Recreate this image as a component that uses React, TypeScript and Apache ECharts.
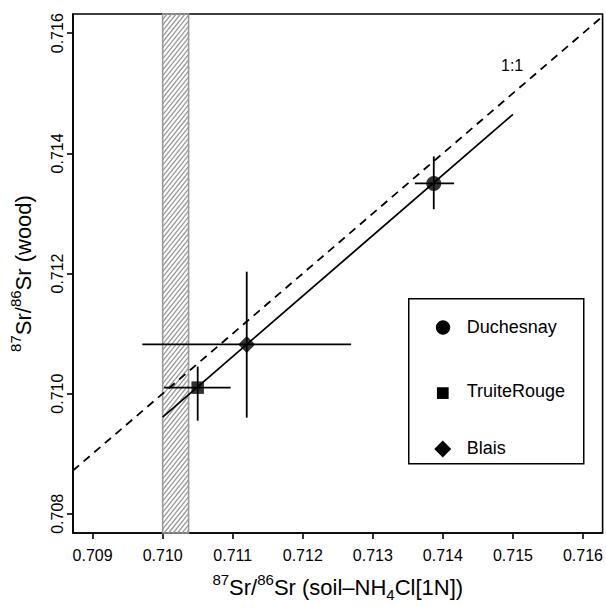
import React, { useEffect, useRef } from "react";
import * as echarts from "echarts";

// ---- data ----
const xTicks = [0.709, 0.71, 0.711, 0.712, 0.713, 0.714, 0.715, 0.716];
const yTicks = [0.708, 0.71, 0.712, 0.714, 0.716];
const xExtent = [0.70872, 0.71628];
const yExtent = [0.70768, 0.71632];

const sites = ["Duchesnay", "TruiteRouge", "Blais"];
const siteSymbols = ["circle", "rect", "diamond"];
const soilSr = [0.71387, 0.7105, 0.7112];
const woodSr = [0.7135, 0.7101, 0.71082];
const soilErrLow = [0.7136, 0.71002, 0.70971];
const soilErrHigh = [0.71416, 0.71097, 0.71269];
const woodErrLow = [0.71307, 0.70955, 0.7096];
const woodErrHigh = [0.71395, 0.71045, 0.71203];

const regressionX = [0.71, 0.715];
const regressionY = [0.70961, 0.71465];

const bandRange = [0.71, 0.71037];
const oneToOneLabel = "1:1";

const FONT = "'Liberation Sans', Arial, Helvetica, sans-serif";

export default function App() {
  const ref = useRef<HTMLDivElement>(null);

  useEffect(() => {
    if (!ref.current) return;
    const chart = echarts.init(ref.current, null, { renderer: "svg" });

    const symbolSizes: any[] = [15, 12.5, 17];

    const option: any = {
      animation: false,
      backgroundColor: "#fff",
      textStyle: { fontFamily: FONT, color: "#000" },
      grid: {
        left: 73,
        top: 14,
        width: 530,
        height: 530.5,
        show: true,
        borderColor: "#000",
        borderWidth: 1.6,
        backgroundColor: "transparent",
      },
      xAxis: {
        type: "value",
        min: xExtent[0],
        max: xExtent[1],
        axisLine: { show: true, onZero: false, lineStyle: { color: "#000", width: 1.6 } },
        axisTick: { show: true, length: 6, inside: false, lineStyle: { color: "#000", width: 1.6 }, customValues: xTicks },
        axisLabel: {
          customValues: xTicks,
          formatter: (v: number) => v.toFixed(3),
          fontSize: 16,
          color: "#000",
          fontFamily: FONT,
          margin: 14,
        },
        splitLine: { show: false },
        name: "{sup|87}{m|Sr/}{sup|86}{m|Sr (soil\u2013NH}{sub|4}{m|Cl[1N])}",
        nameLocation: "middle",
        nameGap: 39,
        nameTextStyle: {
          fontFamily: FONT,
          color: "#000",
          rich: {
            m: { fontSize: 22, fontFamily: FONT, color: "#000", lineHeight: 26, verticalAlign: "bottom" },
            sup: { fontSize: 15, fontFamily: FONT, color: "#000", lineHeight: 26, verticalAlign: "top" },
            sub: { fontSize: 15, fontFamily: FONT, color: "#000", lineHeight: 26, verticalAlign: "bottom", padding: [0, 0, -4, 0] },
          },
        },
      },
      yAxis: {
        type: "value",
        min: yExtent[0],
        max: yExtent[1],
        axisLine: { show: true, onZero: false, lineStyle: { color: "#000", width: 1.6 } },
        axisTick: { show: true, length: 6, inside: false, lineStyle: { color: "#000", width: 1.6 }, customValues: yTicks },
        axisLabel: {
          customValues: yTicks,
          formatter: (v: number) => v.toFixed(3),
          fontSize: 16,
          color: "#000",
          fontFamily: FONT,
          rotate: 90,
          margin: 8,
        },
        splitLine: { show: false },
        name: "{sup|87}{m|Sr/}{sup|86}{m|Sr (wood)}",
        nameLocation: "middle",
        nameGap: 39,
        nameTextStyle: {
          fontFamily: FONT,
          color: "#000",
          rich: {
            m: { fontSize: 22, fontFamily: FONT, color: "#000", lineHeight: 26, verticalAlign: "bottom" },
            sup: { fontSize: 15, fontFamily: FONT, color: "#000", lineHeight: 26, verticalAlign: "top" },
          },
        },
      },
      series: [
        // hatched band
        {
          type: "custom",
          name: "band",
          silent: true,
          z: 1,
          data: [bandRange],
          renderItem: (params: any, api: any) => {
            const cs = params.coordSys;
            const x0 = api.coord([api.value(0), yExtent[0]])[0];
            const x1 = api.coord([api.value(1), yExtent[0]])[0];
            const top = cs.y;
            const bottom = cs.y + cs.height;
            const w = x1 - x0;
            const k = 1.25;
            const step = 5.6;
            const children: any[] = [];
            for (let c = top; c <= bottom + k * w + step; c += step) {
              const xsOff = Math.max(0, (c - bottom) / k);
              const xeOff = Math.min(w, (c - top) / k);
              if (xsOff < xeOff) {
                children.push({
                  type: "line",
                  shape: {
                    x1: x0 + xsOff,
                    y1: c - k * xsOff,
                    x2: x0 + xeOff,
                    y2: c - k * xeOff,
                  },
                  style: { stroke: "#9a9a9a", lineWidth: 1.3 },
                });
              }
            }
            children.push({
              type: "rect",
              shape: { x: x0, y: top, width: w, height: bottom - top },
              style: { fill: "none", stroke: "#9a9a9a", lineWidth: 1.6 },
            });
            return { type: "group", children };
          },
        },
        // 1:1 line
        {
          type: "line",
          name: "1:1",
          silent: true,
          z: 2,
          symbol: "none",
          data: [
            [xExtent[0], xExtent[0]],
            [xExtent[1], xExtent[1]],
          ],
          lineStyle: { color: "#000", width: 1.8, type: [8, 6] },
        },
        // regression line
        {
          type: "line",
          name: "regression",
          silent: true,
          z: 3,
          symbol: "none",
          data: regressionX.map((x, i) => [x, regressionY[i]]),
          lineStyle: { color: "#000", width: 1.8 },
        },
        // error bars
        {
          type: "custom",
          name: "errors",
          silent: true,
          z: 4,
          encode: { x: [0, 2, 3], y: [1, 4, 5] },
          data: sites.map((_, i) => [soilSr[i], woodSr[i], soilErrLow[i], soilErrHigh[i], woodErrLow[i], woodErrHigh[i]]),
          renderItem: (params: any, api: any) => {
            const x = api.value(0);
            const y = api.value(1);
            const hl = api.coord([api.value(2), y]);
            const hh = api.coord([api.value(3), y]);
            const vl = api.coord([x, api.value(4)]);
            const vh = api.coord([x, api.value(5)]);
            const st = { stroke: "#000", lineWidth: 1.8 };
            return {
              type: "group",
              children: [
                { type: "line", shape: { x1: hl[0], y1: hl[1], x2: hh[0], y2: hh[1] }, style: st },
                { type: "line", shape: { x1: vl[0], y1: vl[1], x2: vh[0], y2: vh[1] }, style: st },
              ],
            };
          },
        },
        // points
        ...sites.map((s, i) => ({
          type: "scatter",
          name: s,
          z: 5,
          symbol: siteSymbols[i],
          symbolSize: symbolSizes[i],
          itemStyle: { color: "#000" },
          data: [[soilSr[i], woodSr[i]]],
        })),
      ],
      graphic: [
        {
          type: "text",
          left: 501,
          top: 57,
          style: { text: oneToOneLabel, fontSize: 16, fontFamily: FONT, fill: "#000" },
        },
        {
          type: "group",
          left: 408,
          top: 298,
          children: [
            {
              type: "rect",
              shape: { x: 0, y: 0, width: 175, height: 165 },
              style: { fill: "#fff", stroke: "#000", lineWidth: 1.5 },
            },
            { type: "circle", shape: { cx: 34.3, cy: 28.7, r: 7.2 }, style: { fill: "#000" } },
            { type: "rect", shape: { x: 28.2, y: 88.5, width: 11.7, height: 11.7 }, style: { fill: "#000" } },
            {
              type: "polygon",
              shape: { points: [[34, 141.8], [42.5, 150.3], [34, 158.8], [25.5, 150.3]] },
              style: { fill: "#000" },
            },
            { type: "text", x: 58, y: 28.5, style: { text: sites[0], fontSize: 18, fontFamily: FONT, fill: "#000", verticalAlign: "middle" } },
            { type: "text", x: 58, y: 92.5, style: { text: sites[1], fontSize: 18, fontFamily: FONT, fill: "#000", verticalAlign: "middle" } },
            { type: "text", x: 58, y: 149.5, style: { text: sites[2], fontSize: 18, fontFamily: FONT, fill: "#000", verticalAlign: "middle" } },
          ],
        },
      ],
    };

    chart.setOption(option);
    return () => chart.dispose();
  }, []);

  return (
    <div
      ref={ref}
      style={{ position: "fixed", left: 0, top: 0, width: 606, height: 607, background: "#fff" }}
    />
  );
}
